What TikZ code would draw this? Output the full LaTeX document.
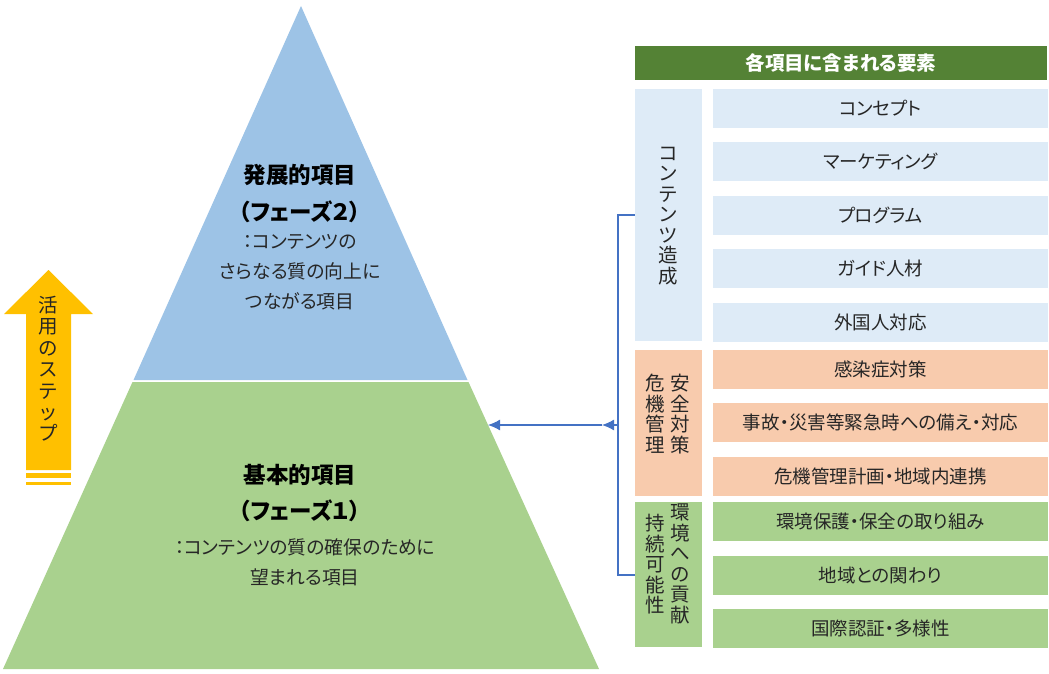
\documentclass[tikz,border=0pt]{standalone}
\usepackage{fontspec}
\setmainfont{Noto Sans CJK JP}[RawFeature=+palt]
\newfontfamily\jpfw{Noto Sans CJK JP}
\usetikzlibrary{arrows.meta}
\definecolor{pblue}{HTML}{9DC3E6}
\definecolor{pgreen}{HTML}{A9D18E}
\definecolor{lblue}{HTML}{DEEBF7}
\definecolor{lorange}{HTML}{F8CBAD}
\definecolor{hgreen}{HTML}{548235}
\definecolor{yel}{HTML}{FFC000}
\definecolor{lnblue}{HTML}{4472C4}
\definecolor{txt}{HTML}{262626}
\tikzset{
  item/.style={minimum width=335pt, minimum height=39pt, inner sep=0pt, text=txt,
    font=\fontsize{18.5}{21}\selectfont},
  itemb/.style={item, fill=lblue},
  itemo/.style={item, fill=lorange},
  itemg/.style={item, fill=pgreen},
  cat/.style={minimum width=67pt, inner sep=0pt},
  vlabel/.style={align=center, inner sep=0pt, text=txt,
    font=\jpfw\fontsize{19.5}{20.5}\selectfont},
  ptitle/.style={text=black, font=\bfseries\fontsize{22.5}{26}\selectfont, inner sep=0pt},
  pbody/.style={text=txt, align=center, inner sep=0pt, font=\fontsize{18.8}{30}\selectfont},
  conn/.style={draw=lnblue, line width=1.2pt},
  tip/.style={-{Latex[length=12pt,width=11pt]}}
}
\begin{document}
\begin{tikzpicture}[x=1pt,y=-1pt]
\useasboundingbox (0,0) rectangle (1049,674);

% pyramid
\fill[pgreen] (132.5,382) -- (468.5,382) -- (599,669) -- (3,669) -- cycle;
\fill[pblue] (301,6) -- (467.5,380) -- (133.5,380) -- cycle;

\node[ptitle] (t2a) at (300,175) {発展的項目};
\node[ptitle] (t2b) at (300,212) {（フェーズ２）};
\node[pbody, anchor=north] (t2c) at (300,234) {：コンテンツの\\さらなる質の向上に\\つながる項目};

\node[ptitle] (t1a) at (300,475) {基本的項目};
\node[ptitle] (t1b) at (300,511) {（フェーズ１）};
\node[pbody, anchor=north] (t1c) at (305,538) {：コンテンツの質の確保のために\\望まれる項目};

% yellow arrow
\fill[yel] (26,470) -- (26,314) -- (4,314) -- (48.5,270) -- (93,314) -- (71,314) -- (71,470) -- cycle;
\fill[yel] (26,473) rectangle (71,478);
\fill[yel] (26,482) rectangle (71,485);
\node[vlabel, font=\jpfw\fontsize{19.5}{21.4}\selectfont, anchor=north] (step) at (48.5,296)
  {活\\用\\の\\ス\\テ\\ッ\\プ};

% header
\node[fill=hgreen, minimum width=412pt, minimum height=34pt, inner sep=0pt, text=white,
  font=\bfseries\fontsize{19.5}{21}\selectfont] (head) at (841,63) {各項目に含まれる要素};

% category boxes
\node[cat, fill=lblue, minimum height=252pt] (cblue) at (668.5,215) {};
\node[cat, fill=lorange, minimum height=146pt] (corange) at (668.5,423) {};
\node[cat, fill=pgreen, minimum height=145pt] (cgreen) at (668.5,574.5) {};

\node[vlabel] (lb1) at (668.5,216) {コ\\ン\\テ\\ン\\ツ\\造\\成};
\node[vlabel, anchor=north] (lo1) at (680,374) {安\\全\\対\\策};
\node[vlabel, anchor=north] (lo2) at (655,374) {危\\機\\管\\理};
\node[vlabel, anchor=north] (lg1) at (680,504) {環\\境\\へ\\の\\貢\\献};
\node[vlabel, anchor=north] (lg2) at (655,514) {持\\続\\可\\能\\性};

% items
\node[itemb] (b1) at (880.5,108.5) {コンセプト};
\node[itemb] (b2) at (880.5,161.5) {マーケティング};
\node[itemb] (b3) at (880.5,215) {プログラム};
\node[itemb] (b4) at (880.5,268.5) {ガイド人材};
\node[itemb] (b5) at (880.5,322) {外国人対応};
\node[itemo] (o1) at (880.5,369) {感染症対策};
\node[itemo] (o2) at (880.5,422.5) {事故・災害等緊急時への備え・対応};
\node[itemo] (o3) at (880.5,476.5) {危機管理計画・地域内連携};
\node[itemg] (g1) at (880.5,521.5) {環境保護・保全の取り組み};
\node[itemg] (g2) at (880.5,575.5) {地域との関わり};
\node[itemg] (g3) at (880.5,628) {国際認証・多様性};

% connectors
\coordinate (bt) at (618,215);
\coordinate (bb) at (618,575);
\coordinate (bm) at (618,425);
\coordinate (am) at (602,425);
\coordinate (pe) at (488,425);
\draw[conn] (cblue.west) -- (bt) -- (bb) -- (cgreen.west |- bb);
\draw[conn, tip] (bm) -- (am);
\draw[conn, tip] (am) -- (pe);
\end{tikzpicture}
\end{document}
